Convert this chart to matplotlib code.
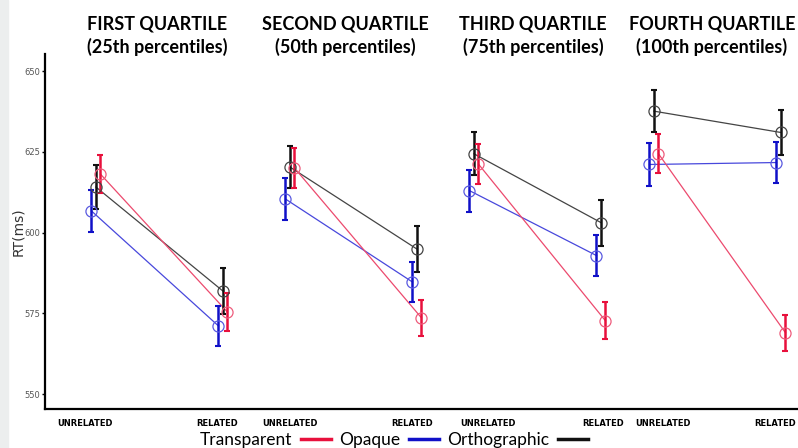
import numpy as np
import matplotlib
matplotlib.use('Agg')
import matplotlib.pyplot as plt
from matplotlib.lines import Line2D
from matplotlib.patches import Rectangle

# values, one entry per quartile
quartile_titles = ['FIRST QUARTILE\n(25th percentiles)', 'SECOND QUARTILE\n(50th percentiles)',
                   'THIRD QUARTILE\n(75th percentiles)', 'FOURTH QUARTILE\n(100th percentiles)']
conditions = ['UNRELATED', 'RELATED']
series = ['Transparent', 'Opaque', 'Orthographic']

transparent_unrel = [618.1, 620.0, 621.2, 624.4]
transparent_rel = [575.4, 573.6, 572.7, 569.0]
opaque_unrel = [606.7, 610.4, 613.0, 621.1]
opaque_rel = [571.1, 584.7, 592.9, 621.7]
ortho_unrel = [614.1, 620.3, 624.4, 637.6]
ortho_rel = [581.9, 594.9, 603.1, 631.0]

transparent_err_unrel = [5.9, 6.1, 6.1, 6.0]
transparent_err_rel = [5.9, 5.6, 5.7, 5.5]
opaque_err_unrel = [6.5, 6.5, 6.5, 6.6]
opaque_err_rel = [6.3, 6.3, 6.3, 6.3]
ortho_err_unrel = [6.7, 6.6, 6.6, 6.5]
ortho_err_rel = [7.0, 7.0, 7.1, 7.0]

# layout (x in pixel-like units of the picture)
W, H = 798, 448
panel_x = [96, 290, 474, 654]
rel_gap = 127
dodge = {'Opaque': -4.5, 'Orthographic': 0.0, 'Transparent': 4.5}
label_x = [85, 217, 290, 412, 488, 603, 663, 775]
title_x = [157, 345, 533, 712]

styles = {
    'Transparent': dict(err='#e8103c', line='#ec4a6e', mk='#ee5c7c'),
    'Opaque': dict(err='#1010c8', line='#4848dc', mk='#5a5ae0'),
    'Orthographic': dict(err='#111111', line='#444444', mk='#444444'),
}
data = {
    'Transparent': (transparent_unrel, transparent_rel, transparent_err_unrel, transparent_err_rel),
    'Opaque': (opaque_unrel, opaque_rel, opaque_err_unrel, opaque_err_rel),
    'Orthographic': (ortho_unrel, ortho_rel, ortho_err_unrel, ortho_err_rel),
}

fig = plt.figure(figsize=(W / 100, H / 100), dpi=100)
fig.patches.append(Rectangle((0, 0), 8 / W, 1, transform=fig.transFigure,
                             color='#eceeee', zorder=0))

ax_l, ax_r, ax_top, ax_bot = 45, 798, 54, 409
ax = fig.add_axes([ax_l / W, 1 - ax_bot / H, (ax_r - ax_l) / W, (ax_bot - ax_top) / H])
ax.set_xlim(ax_l, ax_r)
ax.set_ylim(545.4, 655.3)

for name in ['Orthographic', 'Opaque', 'Transparent']:
    unrel, rel, eu, er = data[name]
    st = styles[name]
    for i in range(4):
        xs = [panel_x[i] + dodge[name], panel_x[i] + rel_gap + dodge[name]]
        ys = [unrel[i], rel[i]]
        ax.plot(xs, ys, color=st['line'], lw=0.9, zorder=2)
        ax.errorbar(xs, ys, yerr=[eu[i], er[i]], fmt='none', ecolor=st['err'],
                    elinewidth=1.8, capsize=2, capthick=1.5, zorder=3)
        ax.plot(xs, ys, 'o', ms=8, mfc='none', mec=st['mk'], mew=0.9, zorder=4)

for s in ['top', 'right']:
    ax.spines[s].set_visible(False)
for s in ['left', 'bottom']:
    ax.spines[s].set_linewidth(1.6)

ax.set_yticks([550, 575, 600, 625, 650])
ax.tick_params(axis='y', labelsize=6, labelcolor='#555555', length=2.5, width=1, pad=1)
ax.set_xticks(label_x)
ax.set_xticklabels(conditions * 4, fontsize=6, fontweight='bold')
ax.tick_params(axis='x', length=0, pad=7)

fig.text(18 / W, 1 - 232 / H, 'RT(ms)', rotation=90, ha='center', va='center',
         fontsize=10, color='#333333')

for t, x in zip(quartile_titles, title_x):
    fig.text(x / W, 1 - 36 / H, t, ha='center', va='center', fontsize=13,
             fontweight='bold', family='Lato', linespacing=1.35)

handles = [Line2D([], [], color=styles[n]['err'], lw=2.5) for n in series]
fig.legend(handles, series, loc='center', bbox_to_anchor=(394 / W, 1 - 440 / H),
           ncol=3, frameon=False, markerfirst=False,
           handlelength=1.7, handletextpad=0.5, columnspacing=0.5,
           prop={'family': 'Lato', 'size': 12.5})

fig.savefig('out.png', dpi=100)
